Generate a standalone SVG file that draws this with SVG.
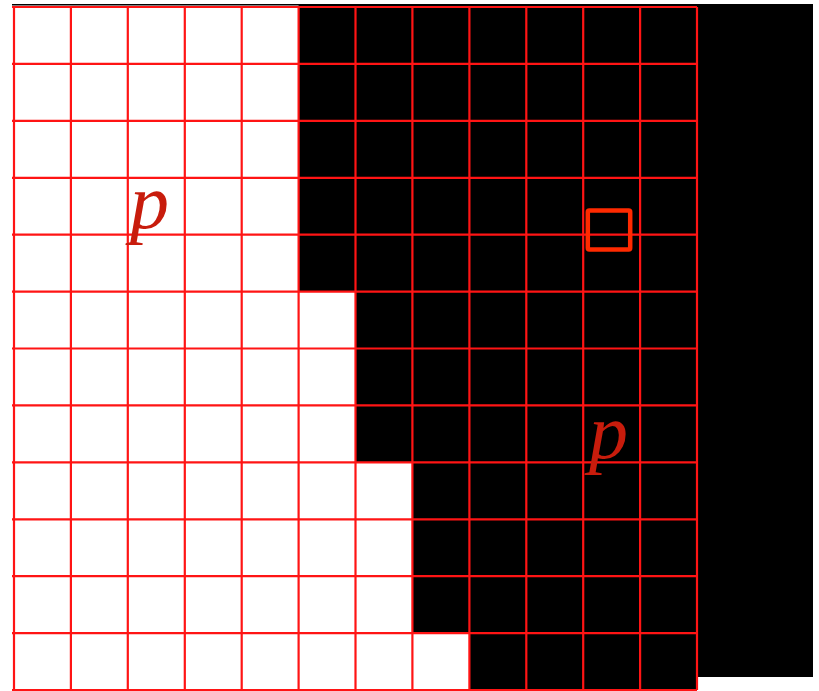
<svg xmlns="http://www.w3.org/2000/svg" width="819" height="691" viewBox="0 0 819 691">
<style>
.g line{stroke:#ff1414;stroke-width:2.2}
.p{font-family:"Liberation Serif",serif;font-style:italic;font-size:78px;fill:#c81c0c}
</style>
<rect width="819" height="691" fill="#ffffff"/>
<g id="background">
<rect x="12" y="4" width="801" height="673" fill="#000000"/>
<polygon points="12,5.5 298.6,5.5 298.6,291.6 355.5,291.6 355.5,462.4 412.4,462.4 412.4,633.1 469.4,633.1 469.4,691 12,691" fill="#ffffff"/>
<rect x="469.4" y="677" width="227.6" height="13" fill="#000000"/>
</g>
<g id="grid" class="g">
<line x1="14" y1="7" x2="14" y2="690"/>
<line x1="70.9" y1="7" x2="70.9" y2="690"/>
<line x1="127.8" y1="7" x2="127.8" y2="690"/>
<line x1="184.8" y1="7" x2="184.8" y2="690"/>
<line x1="241.7" y1="7" x2="241.7" y2="690"/>
<line x1="298.6" y1="7" x2="298.6" y2="690"/>
<line x1="355.5" y1="7" x2="355.5" y2="690"/>
<line x1="412.4" y1="7" x2="412.4" y2="690"/>
<line x1="469.4" y1="7" x2="469.4" y2="690"/>
<line x1="526.3" y1="7" x2="526.3" y2="690"/>
<line x1="583.2" y1="7" x2="583.2" y2="690"/>
<line x1="640.1" y1="7" x2="640.1" y2="690"/>
<line x1="697" y1="7" x2="697" y2="690"/>
<line x1="12" y1="7" x2="697" y2="7"/>
<line x1="12" y1="63.9" x2="697" y2="63.9"/>
<line x1="12" y1="120.8" x2="697" y2="120.8"/>
<line x1="12" y1="177.8" x2="697" y2="177.8"/>
<line x1="12" y1="234.7" x2="697" y2="234.7"/>
<line x1="12" y1="291.6" x2="697" y2="291.6"/>
<line x1="12" y1="348.5" x2="697" y2="348.5"/>
<line x1="12" y1="405.4" x2="697" y2="405.4"/>
<line x1="12" y1="462.4" x2="697" y2="462.4"/>
<line x1="12" y1="519.3" x2="697" y2="519.3"/>
<line x1="12" y1="576.2" x2="697" y2="576.2"/>
<line x1="12" y1="633.1" x2="697" y2="633.1"/>
<line x1="12" y1="690" x2="697" y2="690"/>
</g>
<g id="marker-square">
<rect x="587.8" y="210.5" width="42.4" height="38.9" rx="1.5" fill="none" stroke="#ff2a00" stroke-width="4.5"/>
</g>
<g id="label-p-white"><text class="p" x="130" y="228">p</text></g>
<g id="label-p-black"><text class="p" x="589" y="458">p</text></g>
</svg>
